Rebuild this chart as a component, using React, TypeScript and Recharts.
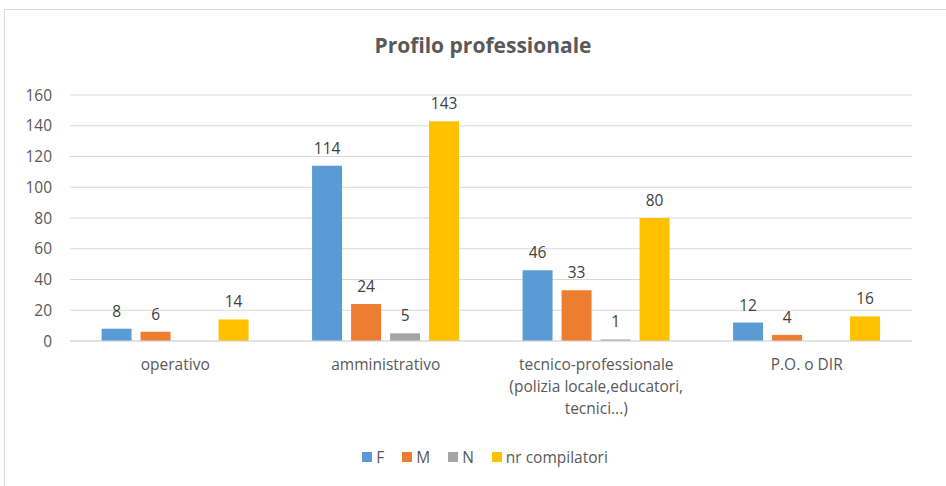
import { Bar, BarChart, CartesianGrid, Legend, LabelList, XAxis, YAxis, Text } from "recharts";

const categories = [
  "operativo",
  "amministrativo",
  "tecnico-professionale (polizia locale,educatori, tecnici...)",
  "P.O. o DIR",
];
const fValues = [8, 114, 46, 12];
const mValues = [6, 24, 33, 4];
const nValues: (number | null)[] = [null, 5, 1, null];
const compilatoriValues = [14, 143, 80, 16];
const yTicks = [0, 20, 40, 60, 80, 100, 120, 140, 160];

const seriesNames = ["F", "M", "N", "nr compilatori"];
const seriesColors = ["#5B9BD5", "#ED7D31", "#A5A5A5", "#FFC000"];

const data = categories.map((c, i) => ({
  cat: c,
  F: fValues[i],
  M: mValues[i],
  N: nValues[i],
  "nr compilatori": compilatoriValues[i],
}));

const FONT = "'Open Sans', sans-serif";
const TEXT = "#595959";
const FS = 15.5;

function CatTick(props: any) {
  const { x, y, payload } = props;
  return (
    <Text
      x={x}
      y={y + 10}
      width={188}
      textAnchor="middle"
      verticalAnchor="start"
      lineHeight={22}
      fill={TEXT}
      fontSize={FS}
      fontFamily={FONT}
    >
      {payload.value}
    </Text>
  );
}

function LegendBox() {
  return (
    <div style={{ display: "flex", justifyContent: "center", paddingLeft: 58, fontFamily: FONT, fontSize: FS, color: TEXT }}>
      {seriesNames.map((n, i) => (
        <div key={n} style={{ display: "flex", alignItems: "center", marginRight: i < seriesNames.length - 1 ? 18 : 0 }}>
          <span style={{ width: 10, height: 10, background: seriesColors[i], marginRight: 4, display: "inline-block" }} />
          <span>{n}</span>
        </div>
      ))}
    </div>
  );
}

export default function App() {
  return (
    <div style={{ position: "absolute", left: 0, top: 0, width: 946, height: 486, overflow: "hidden", background: "#fff" }}>
      <div style={{ position: "absolute", left: 4, top: 9, width: 1000, height: 600, border: "1px solid #d9d9d9" }} />
      <div
        style={{
          position: "absolute",
          left: 0,
          width: 966,
          top: 31,
          textAlign: "center",
          fontFamily: FONT,
          fontWeight: 700,
          fontSize: 21,
          color: TEXT,
        }}
      >
        Profilo professionale
      </div>
      <div style={{ position: "absolute", left: 0, top: 0 }}>
        <BarChart
          width={946}
          height={486}
          data={data}
          margin={{ top: 95, right: 34, left: 0, bottom: 23 }}
          barCategoryGap="15%"
          barGap={9}
        >
          <CartesianGrid vertical={false} stroke="#d9d9d9" />
          <XAxis
            dataKey="cat"
            axisLine={{ stroke: "#d9d9d9" }}
            tickLine={false}
            interval={0}
            tick={<CatTick />}
            height={100}
          />
          <YAxis
            width={70}
            domain={[0, 160]}
            ticks={yTicks}
            interval={0}
            axisLine={false}
            tickLine={false}
            tickMargin={12}
            tick={{ fill: TEXT, fontSize: FS, fontFamily: FONT }}
          />
          <Legend verticalAlign="bottom" content={<LegendBox />} wrapperStyle={{ bottom: 18 }} />
          {seriesNames.map((n, i) => (
            <Bar key={n} dataKey={n} fill={seriesColors[i]} isAnimationActive={false}>
              <LabelList dataKey={n} position="top" offset={12} fill="#404040" fontSize={FS} fontFamily={FONT} />
            </Bar>
          ))}
        </BarChart>
      </div>
    </div>
  );
}
